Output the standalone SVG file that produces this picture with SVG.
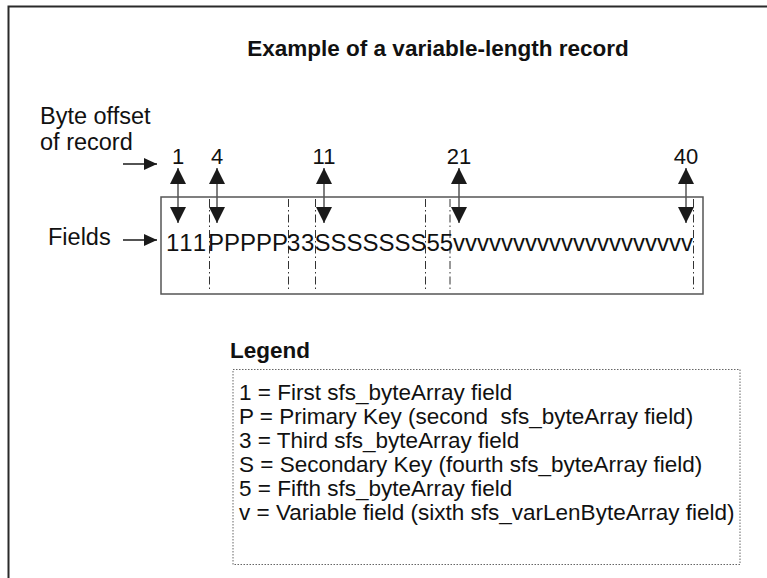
<svg xmlns="http://www.w3.org/2000/svg" width="767" height="578" viewBox="0 0 767 578">
<defs>
<style>
text{font-family:"Liberation Sans",Arial,Helvetica,sans-serif;fill:#111}
.title{font-size:22.5px;font-weight:bold}
.lbl{font-size:23.5px}
.num{font-size:22px;text-anchor:middle}
.rec{font-size:24px}
.leg{font-size:22.5px}
.legh{font-size:22.5px;font-weight:bold}
.frame{fill:none;stroke:#2a2a2a;stroke-width:2}
.box{fill:none;stroke:#555;stroke-width:1.5}
.dd{stroke:#333;stroke-width:1;stroke-dasharray:8 3 1.5 3;fill:none}
.dbl{stroke:#555;stroke-width:1.5;fill:none;marker-start:url(#tri);marker-end:url(#tri)}
.ptr{stroke:#1a1a1a;stroke-width:1.5;fill:none;marker-end:url(#sm)}
.lbox{fill:none;stroke:#666;stroke-width:1;stroke-dasharray:1.5 1.5}
</style>
<marker id="tri" markerUnits="userSpaceOnUse" markerWidth="16" markerHeight="16" refX="16" refY="8" orient="auto-start-reverse" viewBox="0 0 16 16">
<path d="M0,0 L16,8 L0,16 z" fill="#1a1a1a"/>
</marker>
<marker id="sm" markerUnits="userSpaceOnUse" markerWidth="13" markerHeight="12" refX="13" refY="6" orient="auto" viewBox="0 0 13 12">
<path d="M0,0 L13,6 L0,12 z" fill="#1a1a1a"/>
</marker>
</defs>
<rect width="767" height="578" fill="#fff"/>
<g id="frame">
<path class="frame" d="M8.5,578 V6.5 H767"/>
</g>
<g id="title">
<text class="title" x="438" y="56" text-anchor="middle">Example of a variable-length record</text>
</g>
<g id="byte-offset-label">
<text class="lbl" x="40" y="124">Byte offset</text>
<text class="lbl" x="40" y="150">of record</text>
</g>
<g id="fields-label">
<text class="lbl" x="48" y="245">Fields</text>
</g>
<g id="offsets">
<text class="num" x="178" y="164">1</text>
<text class="num" x="217" y="164">4</text>
<text class="num" x="324" y="164">11</text>
<text class="num" x="459" y="164">21</text>
<text class="num" x="686" y="164">40</text>
</g>
<g id="record">
<rect class="box" x="161" y="197" width="542" height="97"/>
<path class="dd" d="M209.5,199 V292 M288.5,199 V292 M315.5,199 V292 M425.5,199 V292 M450,199 V292 M693.5,199 V292"/>
<text class="rec" y="251"><tspan x="166" letter-spacing="1.8">111</tspan><tspan x="208" letter-spacing="0">PPPPP</tspan><tspan x="287" letter-spacing="0.6">33</tspan><tspan x="314.5" letter-spacing="0">SSSSSSS</tspan><tspan x="426.5">55</tspan><tspan x="453">vvvvvvvvvvvvvvvvvvvv</tspan></text>
</g>
<g id="connectors">
<line class="ptr" x1="123" y1="164" x2="157" y2="164"/>
<line class="ptr" x1="123" y1="240" x2="157" y2="240"/>
<line class="dbl" x1="178" y1="168" x2="178" y2="223"/>
<line class="dbl" x1="217" y1="168" x2="217" y2="223"/>
<line class="dbl" x1="324" y1="168" x2="324" y2="223"/>
<line class="dbl" x1="459" y1="168" x2="459" y2="223"/>
<line class="dbl" x1="686" y1="168" x2="686" y2="223"/>
</g>
<g id="legend">
<text class="legh" x="230" y="358">Legend</text>
<rect class="lbox" x="233" y="369.5" width="507" height="195"/>
<text class="leg" x="239" y="400">1 = First sfs_byteArray field</text>
<text class="leg" x="239" y="424" xml:space="preserve">P = Primary Key (second  sfs_byteArray field)</text>
<text class="leg" x="239" y="448">3 = Third sfs_byteArray field</text>
<text class="leg" x="239" y="472">S = Secondary Key (fourth sfs_byteArray field)</text>
<text class="leg" x="239" y="496">5 = Fifth sfs_byteArray field</text>
<text class="leg" x="239" y="520">v = Variable field (sixth sfs_varLenByteArray field)</text>
</g>
</svg>
